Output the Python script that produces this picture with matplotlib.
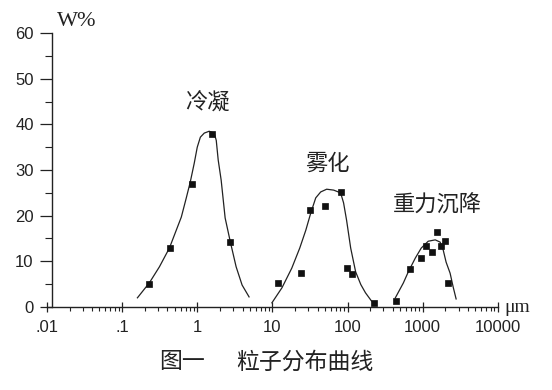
import numpy as np
import matplotlib
matplotlib.use("Agg")
import matplotlib.pyplot as plt
from matplotlib.ticker import LogLocator, NullFormatter, MultipleLocator

plt.rcParams['font.family'] = ['Liberation Sans', 'Noto Sans CJK SC', 'DejaVu Sans']

# 冷凝: 测点与拟合曲线
x_cond = [0.23, 0.43, 0.84, 1.55, 2.76]
y_cond = [5.0, 12.9, 26.9, 37.9, 14.2]
xc_cond = [0.16, 0.231, 0.314, 0.426, 0.614, 0.715, 0.808, 0.912, 1.0, 1.10, 1.24,
           1.44, 1.68, 1.79, 1.90, 2.08, 2.35, 2.76, 3.29, 3.95, 4.89]
yc_cond = [2.0, 5.3, 8.8, 12.9, 19.7, 23.9, 27.4, 31.5, 35.0, 37.2, 38.1,
           38.5, 38.1, 36.5, 32.2, 27.8, 19.5, 14.2, 8.8, 4.8, 2.2]

# 雾化
x_mist = [11.8, 23.9, 31.4, 49.5, 80.8, 97, 116, 228]
y_mist = [5.3, 7.4, 21.2, 22.1, 25.2, 8.5, 7.2, 0.9]
xc_mist = [9.85, 13.4, 18.1, 23.1, 27.8, 32.4, 37.7, 43.9, 52.7, 65.3, 80.8,
           88.5, 97.0, 110, 128, 150, 173, 208]
yc_mist = [0.9, 4.2, 8.5, 12.9, 16.8, 20.6, 23.9, 25.2, 25.8, 25.6, 25.0,
           22.8, 19.0, 12.9, 7.7, 4.9, 3.1, 1.3]

# 重力沉降
x_grav = [446, 683, 955, 1112, 1337, 1556, 1758, 1987, 2178]
y_grav = [1.3, 8.3, 10.7, 13.3, 12.0, 16.4, 13.3, 14.4, 5.3]
xc_grav = [432, 552, 643, 796, 955, 1183, 1466, 1705, 1870, 2047, 2312, 2537, 2780]
yc_grav = [2.0, 5.25, 7.7, 10.7, 12.9, 14.4, 14.7, 14.2, 12.5, 9.8, 7.4, 4.4, 1.75]

xtick_vals = [0.01, 0.1, 1, 10, 100, 1000, 10000]
xtick_text = ['.01', '.1', '1', '10', '100', '1000', '10000']

fig = plt.figure(figsize=(5.52, 3.9), dpi=100)
ax = fig.add_axes([0.085, 0.213, 0.817, 0.702])

ink = '#222222'
for xc, yc in [(xc_cond, yc_cond), (xc_mist, yc_mist), (xc_grav, yc_grav)]:
    ax.plot(xc, yc, color=ink, lw=0.9, solid_joinstyle='round')
for xp, yp in [(x_cond, y_cond), (x_mist, y_mist), (x_grav, y_grav)]:
    ax.plot(xp, yp, 's', color='#111111', ms=4.3, mec='#111111', mew=0.5, ls='none')

ax.set_xscale('log')
ax.set_xlim(0.01, 10000)
ax.set_ylim(0, 60)
ax.set_xticks(xtick_vals)
ax.set_xticklabels(xtick_text)
ax.xaxis.set_minor_locator(LogLocator(base=10, subs=np.arange(2, 10)))
ax.xaxis.set_minor_formatter(NullFormatter())
ax.yaxis.set_major_locator(MultipleLocator(10))
ax.yaxis.set_minor_locator(MultipleLocator(5))

for s in ['top', 'right']:
    ax.spines[s].set_visible(False)
ax.spines['left'].set_position(('data', 0.0116))
for s in ['left', 'bottom']:
    ax.spines[s].set_color(ink)
    ax.spines[s].set_linewidth(1.0)

ax.tick_params(axis='x', which='major', direction='inout', length=7, width=0.9, pad=6, labelsize=12, colors=ink)
ax.tick_params(axis='x', which='minor', direction='out', length=3, width=0.8, colors=ink)
ax.tick_params(axis='y', which='major', direction='out', length=9, width=0.9, pad=4, labelsize=12, colors=ink)
ax.tick_params(axis='y', which='minor', direction='out', length=5, width=0.8, colors=ink)

cjk = ['Noto Sans CJK SC', 'DejaVu Sans']
serif = ['Liberation Serif', 'DejaVu Serif']
fig.text(77/552, 1-22/390, 'W%', fontsize=16, family=serif, ha='center', va='center', color=ink)
fig.text(517/552, 1-307/390, 'μm', fontsize=14, family=serif, ha='center', va='center', color=ink)
fig.text(207/552, 1-103/390, '冷凝', fontsize=16, family=cjk, ha='center', va='center', color=ink)
fig.text(327/552, 1-163/390, '雾化', fontsize=16, family=cjk, ha='center', va='center', color=ink)
fig.text(437/552, 1-205/390, '重力沉降', fontsize=16, family=cjk, ha='center', va='center', color=ink)
fig.text(182/552, 1-362/390, '图一', fontsize=16.5, family=cjk, ha='center', va='center', color=ink)
fig.text(305/552, 1-362/390, '粒子分布曲线', fontsize=16.5, family=cjk, ha='center', va='center', color=ink)

fig.savefig('out.png', dpi=100)
